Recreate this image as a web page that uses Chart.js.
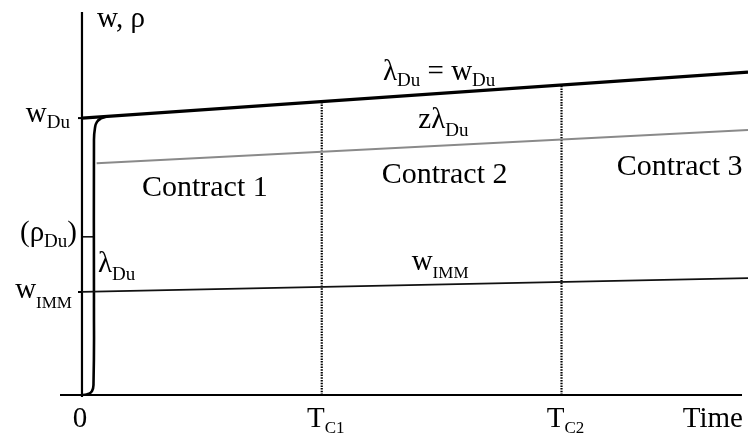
<!DOCTYPE html>
<html>
<head>
<meta charset="utf-8">
<script src="https://cdn.jsdelivr.net/npm/chart.js@4.4.1/dist/chart.umd.min.js"></script>
<style>
  html, body { margin: 0; padding: 0; background: #fff; }
  canvas { display: block; }
</style>
</head>
<body>
<canvas id="contractChart" width="750" height="435"></canvas>
<script>
// time axis marks: origin and the two contract renewals
const timeMarks = [0, 36, 72];
const timeMarkNames = [['0', ''], ['T', 'C1'], ['T', 'C2']];
const lineX = [0, 100];
const wDuLine = [72.3, 84.3];       // lambda_Du = w_Du
const zLambdaX = [2.2, 100];
const zLambdaLine = [60.5, 69.2];   // z * lambda_Du
const wImmLine = [26.9, 30.5];      // w_IMM
const rhoDu = 41.3;
// lambda_Du climbing from zero up to w_Du right after the start
const riseX = [0.15, 0.9, 1.5, 1.73, 1.8, 1.8, 1.95, 2.25, 2.85, 3.75];
const riseY = [0, 0.26, 1.04, 2.9, 24.8, 66.6, 69.7, 71.3, 72.2, 72.7];
const contractNames = ['Contract 1', 'Contract 2', 'Contract 3'];

const SERIF = '"Liberation Serif", "Times New Roman", serif';

const toPoints = (xs, ys) => xs.map((x, i) => ({ x: x, y: ys[i] }));

// height of the w_Du line at a given time (for the dotted renewal markers)
function wDuAt(x) {
    return wDuLine[0] + (wDuLine[1] - wDuLine[0]) * (x - lineX[0]) / (lineX[1] - lineX[0]);
}

function segment(points, color, width, dash) {
    return {
        data: points,
        showLine: true,
        borderColor: color,
        borderWidth: width,
        borderDash: dash || [],
        pointRadius: 0,
        tension: 0,
        fill: false
    };
}

const datasets = [
    segment(toPoints(lineX, wDuLine), '#000', 3.2),
    segment(toPoints(zLambdaX, zLambdaLine), '#8a8a8a', 2),
    segment(toPoints(lineX, wImmLine), '#111', 1.8),
    Object.assign(segment(toPoints(riseX, riseY), '#000', 2.6), { tension: 0.5 }),
    // little ticks on the vertical axis
    segment([{ x: -0.6, y: wDuLine[0] }, { x: 0, y: wDuLine[0] }], '#000', 2),
    segment([{ x: -0.6, y: wImmLine[0] }, { x: 0, y: wImmLine[0] }], '#000', 2),
    segment([{ x: 0, y: rhoDu }, { x: 1.8, y: rhoDu }], '#000', 1.5)
];
timeMarks.slice(1).forEach(t => {
    datasets.push(segment([{ x: t, y: 0 }, { x: t, y: wDuAt(t) }], '#000', 2.2, [1.5, 1.2]));
});

// text pieces: [text, isSubscript]
function drawParts(ctx, parts, x, y, opt) {
    const size = opt.size || 29, subSize = opt.subSize || 19, drop = opt.drop || 6;
    let total = 0;
    parts.forEach(p => {
        ctx.font = `${p[1] ? subSize : size}px ${SERIF}`;
        total += ctx.measureText(p[0]).width;
    });
    let cx = x;
    if (opt.align === 'right') cx = x - total;
    else if (opt.align === 'center') cx = x - total / 2;
    ctx.textAlign = 'left';
    ctx.textBaseline = 'alphabetic';
    ctx.fillStyle = '#000';
    parts.forEach(p => {
        ctx.font = `${p[1] ? subSize : size}px ${SERIF}`;
        ctx.fillText(p[0], cx, p[1] ? y + drop : y);
        cx += ctx.measureText(p[0]).width;
    });
}

const labels = [
    { x: 2.25, y: 96.1, parts: [['w, ρ']] },
    { x: -1.8, y: 71.3, parts: [['w'], ['Du', 1]], align: 'right' },
    { x: -0.75, y: 40.2, parts: [['(ρ'], ['Du', 1], [')']], align: 'right' },
    { x: -1.5, y: 25.3, parts: [['w'], ['IMM', 1]], align: 'right', drop: 10, subSize: 17 },
    { x: 2.4, y: 32.1, parts: [['λ'], ['Du', 1]], drop: 8 },
    { x: 45.2, y: 82.2, parts: [['λ'], ['Du', 1], [' = w'], ['Du', 1]], drop: 6 },
    { x: 50.5, y: 69.7, parts: [['zλ'], ['Du', 1]], drop: 8 },
    { x: 49.5, y: 32.6, parts: [['w'], ['IMM', 1]], drop: 8, subSize: 17 },
    { x: 90.2, y: -8.4, parts: [['Time']] }
];
const contractSpots = [{ x: 9.0, y: 52 }, { x: 45.0, y: 55.4 }, { x: 80.3, y: 57.4 }];

const sketchPlugin = {
    id: 'sketch',
    beforeDatasetsDraw(chart) {
        const { ctx, scales: { x, y } } = chart;
        ctx.save();
        ctx.strokeStyle = '#000';
        ctx.lineWidth = 2.2;
        ctx.beginPath();
        // vertical axis
        ctx.moveTo(x.getPixelForValue(0), y.getPixelForValue(100));
        ctx.lineTo(x.getPixelForValue(0), y.getPixelForValue(-0.5));
        // time axis
        ctx.moveTo(x.getPixelForValue(-3.3), y.getPixelForValue(0));
        ctx.lineTo(x.getPixelForValue(99.1), y.getPixelForValue(0));
        ctx.stroke();
        ctx.restore();
    },
    afterDraw(chart) {
        const { ctx, scales: { x, y } } = chart;
        ctx.save();
        labels.forEach(l => {
            drawParts(ctx, l.parts, x.getPixelForValue(l.x), y.getPixelForValue(l.y), l);
        });
        contractNames.forEach((name, i) => {
            const p = contractSpots[i];
            drawParts(ctx, [[name]], x.getPixelForValue(p.x), y.getPixelForValue(p.y), { size: 30 });
        });
        timeMarks.forEach((t, i) => {
            const [main, sub] = timeMarkNames[i];
            const parts = sub ? [[main], [sub, 1]] : [[main]];
            drawParts(ctx, parts, x.getPixelForValue(t) + (sub ? 4 : -2), y.getPixelForValue(-8.4),
                { align: 'center', subSize: 17, drop: 6 });
        });
        ctx.restore();
    }
};

new Chart(document.getElementById('contractChart'), {
    type: 'scatter',
    data: { datasets: datasets },
    options: {
        responsive: false,
        animation: false,
        layout: { padding: { left: 60, right: 2, top: 12, bottom: 40 } },
        plugins: { legend: { display: false }, tooltip: { enabled: false } },
        scales: {
            x: { type: 'linear', min: -3.3, max: 100, display: false },
            y: { type: 'linear', min: 0, max: 100, display: false }
        },
        elements: { line: { capBezierPoints: false } }
    },
    plugins: [sketchPlugin]
});
</script>
</body>
</html>
